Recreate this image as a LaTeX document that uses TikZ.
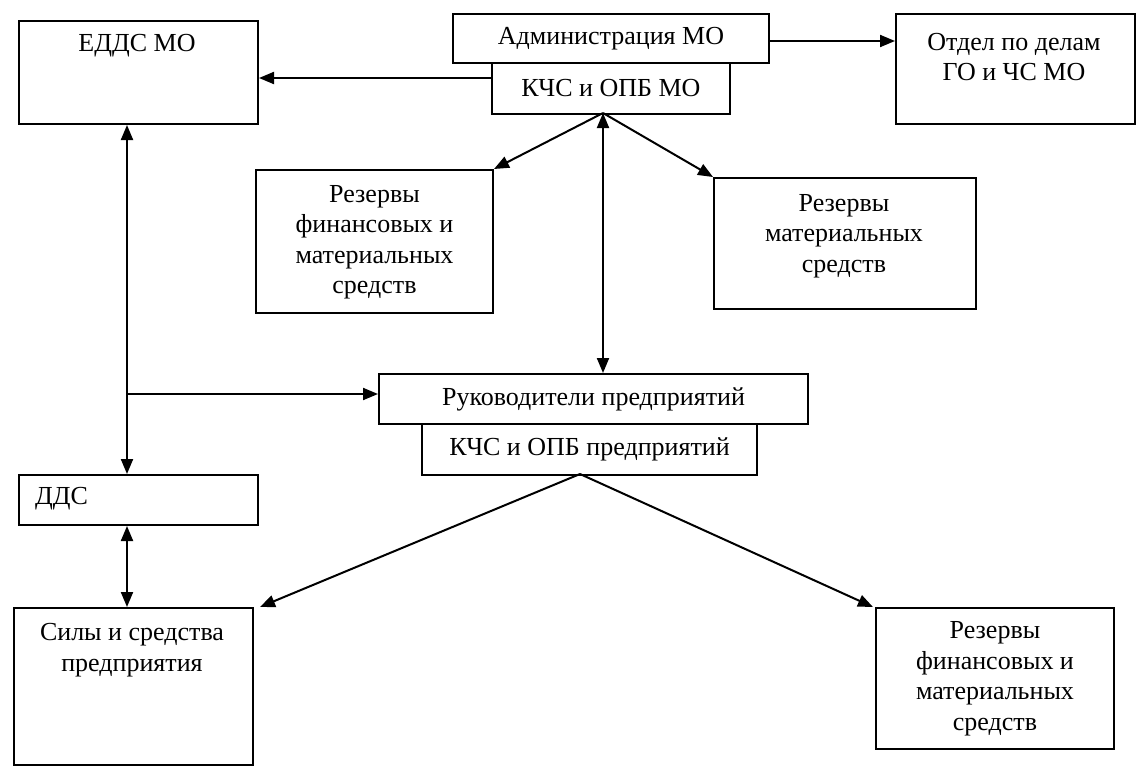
\documentclass[tikz,border=0pt]{standalone}
\usepackage{fontspec}
\setmainfont{Liberation Serif}
\usetikzlibrary{arrows.meta}
\tikzset{
  box/.style={draw, line width=2pt, rectangle, inner sep=0pt, anchor=north west},
  txt/.style={font=\fontsize{26}{30.5}\selectfont, align=center, inner sep=0pt},
  conn/.style={line width=2pt, -{Triangle[length=15pt,width=12pt]}},
  biconn/.style={line width=2pt, {Triangle[length=15pt,width=12pt]}-{Triangle[length=15pt,width=12pt]}}
}
\begin{document}
\begin{tikzpicture}[x=1pt,y=-1pt]
\useasboundingbox (0,0) rectangle (1136,766);
% boxes
\node[box, minimum width=239pt, minimum height=103pt] (edds) at (18,20) {};
\node[txt] (eddst) at (137,46) {ЕДДС МО};
\node[box, minimum width=316pt, minimum height=49pt] (adm) at (452,13) {};
\node[txt] (admt) at (adm.center) {Администрация МО};
\node[box, minimum width=238pt, minimum height=51pt] (kchs) at (491,62) {};
\node[txt] (kchst) at (kchs.center) {КЧС и ОПБ МО};
\node[box, minimum width=239pt, minimum height=110pt] (otdel) at (895,13) {};
\node[txt] (otdelt) at (1014,57) {Отдел по делам\\ГО и ЧС МО};
\node[box, minimum width=237pt, minimum height=143pt] (rez1) at (255,169) {};
\node[txt] (rez1t) at ([yshift=-1pt]rez1.center) {Резервы\\финансовых и\\материальных\\средств};
\node[box, minimum width=262pt, minimum height=131pt] (rez2) at (713,177) {};
\node[txt] (rez2t) at (844,236) {Резервы\\материальных\\средств};
\node[box, minimum width=429pt, minimum height=50pt] (ruk) at (378,373) {};
\node[txt] (rukt) at (ruk.center) {Руководители предприятий};
\node[box, minimum width=335pt, minimum height=51pt] (kchsp) at (421,423) {};
\node[txt] (kchspt) at (kchsp.center) {КЧС и ОПБ предприятий};
\node[box, minimum width=239pt, minimum height=50pt] (dds) at (18,474) {};
\node[txt, anchor=west] (ddst) at (35,499) {ДДС};
\node[box, minimum width=239pt, minimum height=157pt] (sily) at (13,607) {};
\node[txt] (silyt) at (132,650) {Силы и средства\\предприятия};
\node[box, minimum width=238pt, minimum height=141pt] (rez3) at (875,607) {};
\node[txt] (rez3t) at (rez3.center) {Резервы\\финансовых и\\материальных\\средств};
% coordinates
\coordinate (vx) at (127,0);
\coordinate (apex) at (603,113);
\coordinate (apex2) at (580,474);
\coordinate (br) at (127,394);
% connectors
\draw[conn] (kchs.west |- 0,78) -- (edds.east |- 0,78);
\draw[conn] (adm.east |- 0,41) -- (otdel.west |- 0,41);
\draw[conn] (apex) -- (rez1.north east);
\draw[conn] (apex) -- (rez2.north west);
\draw[biconn] (apex) -- (ruk.north -| apex);
\draw[biconn] (edds.south -| vx) -- (dds.north -| vx);
\draw[conn] (br) -- (ruk.west |- br);
\draw[biconn] (dds.south -| vx) -- (sily.north -| vx);
\draw[conn] (apex2) -- ([xshift=6pt]sily.north east);
\draw[conn] (apex2) -- ([xshift=-2pt]rez3.north west);
\end{tikzpicture}
\end{document}
